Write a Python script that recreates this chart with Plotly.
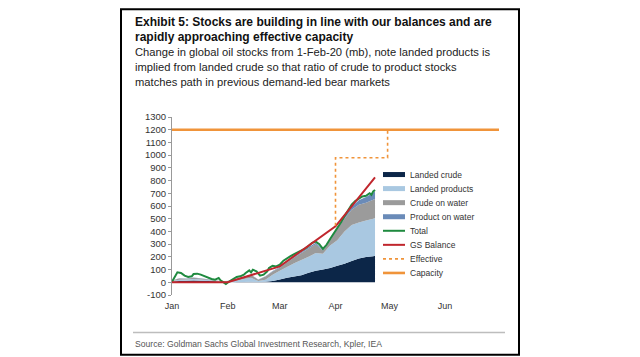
import plotly.graph_objects as go

# ---------------- data ----------------
area_dates = ["2020-01-01", "2020-01-05", "2020-01-09", "2020-01-13", "2020-01-17", "2020-01-21",
              "2020-01-25", "2020-01-29", "2020-02-02", "2020-02-06", "2020-02-10", "2020-02-14",
              "2020-02-18", "2020-02-22", "2020-02-26", "2020-03-01", "2020-03-05", "2020-03-09",
              "2020-03-13", "2020-03-17", "2020-03-21", "2020-03-25", "2020-03-29", "2020-04-02",
              "2020-04-06", "2020-04-10", "2020-04-14", "2020-04-18", "2020-04-22", "2020-04-23"]
landed_crude = [5, 10, 12, 15, 12, 10, 8, 3, 0, 2, 3, 5, 2, 5, 10, 22, 35, 45, 55, 75, 90, 100,
                112, 130, 145, 168, 188, 198, 205, 208]
landed_products = [5, 10, 10, 10, 10, 8, 4, 2, 5, 13, 22, 30, 8, 15, 50, 68, 85, 105, 120, 125, 140,
                   125, 178, 200, 255, 282, 282, 287, 295, 297]
crude_on_water = [5, 10, 6, 10, 8, 4, 3, 3, 5, 10, 15, 25, 10, 25, 25, 25, 35, 45, 55, 65, 70, 25,
                  40, 90, 100, 120, 140, 140, 150, 150]
product_on_water = [0, 2, 2, 2, 2, 2, 1, 0, 2, 3, 2, 2, 2, 3, 3, 5, 5, 5, 8, 10, 10, 8, 10, 15, 20,
                    25, 35, 45, 55, 60]

total_dates = ["2020-01-01", "2020-01-03", "2020-01-04", "2020-01-06", "2020-01-08", "2020-01-10",
               "2020-01-12", "2020-01-13", "2020-01-15", "2020-01-17", "2020-01-19", "2020-01-21",
               "2020-01-23", "2020-01-25", "2020-01-27", "2020-01-28", "2020-01-30", "2020-01-31",
               "2020-02-02", "2020-02-04", "2020-02-06", "2020-02-08", "2020-02-10", "2020-02-11",
               "2020-02-13", "2020-02-14", "2020-02-15", "2020-02-17", "2020-02-19", "2020-02-21",
               "2020-02-23", "2020-02-24", "2020-02-26", "2020-02-28", "2020-03-01", "2020-03-03",
               "2020-03-05", "2020-03-07", "2020-03-09", "2020-03-11", "2020-03-13", "2020-03-15",
               "2020-03-17", "2020-03-19", "2020-03-21", "2020-03-23", "2020-03-25", "2020-03-27",
               "2020-03-29", "2020-03-31", "2020-04-01", "2020-04-02", "2020-04-04", "2020-04-06",
               "2020-04-08", "2020-04-10", "2020-04-12", "2020-04-14", "2020-04-16", "2020-04-18",
               "2020-04-20", "2020-04-21", "2020-04-22", "2020-04-23"]
total = [5, 50, 78, 73, 52, 42, 47, 65, 68, 60, 47, 34, 26, 21, 34, 16, -5, -13, 8, 26, 42, 47, 60,
         73, 94, 78, 99, 86, 52, 60, 86, 112, 130, 125, 138, 170, 190, 205, 222, 235, 250, 265, 285,
         310, 320, 300, 262, 295, 340, 380, 400, 430, 470, 520, 565, 610, 640, 655, 675, 680, 700,
         688, 715, 726]

gs_dates = ["2020-01-01", "2020-02-01", "2020-03-01", "2020-04-01", "2020-04-23"]
gs_balance = [0, 0, 125, 440, 825]

eff_dates = ["2020-04-01", "2020-04-01", "2020-04-30", "2020-04-30", "2020-07-01"]
effective = [445, 980, 980, 1200, 1200]

cap_dates = ["2020-01-01", "2020-07-01"]
capacity = [1200, 1200]

month_ticks = ["2020-01-01", "2020-02-01", "2020-03-01", "2020-04-01", "2020-05-01", "2020-06-01"]
month_labels = ["Jan", "Feb", "Mar", "Apr", "May", "Jun"]
y_ticks = [-100, 0, 100, 200, 300, 400, 500, 600, 700, 800, 900, 1000, 1100, 1200, 1300]
y_range = [-100, 1300]

# ---------------- styling ----------------
C_LC = "#0c2648"
C_LP = "#a9c8e1"
C_CW = "#9b9b9b"
C_PW = "#6a8bb8"
C_TOT = "#1f8a3f"
C_GS = "#c0262d"
C_EFF = "#f0943a"
C_CAP = "#f0943a"

TFONT = "Liberation Sans, Arial, sans-serif"
ARIAL = "Liberation Sans, Arial, sans-serif"

OFF = 8                      # page body margin in the browser
W, H = 640 - OFF, 357 - OFF  # figure size
# plot-area edges in screen pixels
SL, SR, ST, SB = 172, 499, 117, 295.5
L, R, T, B = SL - OFF, SR - OFF, ST - OFF, SB - OFF


def fx(sx):
    return (sx - OFF - L) / (R - L)


def fy(sy):
    return (B - (sy - OFF)) / (B - T)


fig = go.Figure()

for name, vals, col in [("Landed crude", landed_crude, C_LC),
                        ("Landed products", landed_products, C_LP),
                        ("Crude on water", crude_on_water, C_CW),
                        ("Product on water", product_on_water, C_PW)]:
    fig.add_trace(go.Scatter(x=area_dates, y=vals, name=name, stackgroup="s", mode="none",
                             fillcolor=col, line=dict(width=0), showlegend=False))

fig.add_trace(go.Scatter(x=total_dates, y=total, name="Total", mode="lines",
                         line=dict(color=C_TOT, width=2), showlegend=False))
fig.add_trace(go.Scatter(x=gs_dates, y=gs_balance, name="GS Balance", mode="lines",
                         line=dict(color=C_GS, width=2), showlegend=False))
fig.add_trace(go.Scatter(x=eff_dates, y=effective, name="Effective", mode="lines",
                         line=dict(color=C_EFF, width=1.6, dash="dot"), showlegend=False))
fig.add_trace(go.Scatter(x=cap_dates, y=capacity, name="Capacity", mode="lines",
                         line=dict(color=C_CAP, width=2.6), showlegend=False))

zero_pos = (0 - y_range[0]) / (y_range[1] - y_range[0])

fig.update_layout(
    width=W, height=H,
    margin=dict(l=L, r=W - R, t=T, b=H - B, pad=0),
    paper_bgcolor="white", plot_bgcolor="white",
    showlegend=False,
    xaxis=dict(type="date", range=["2020-01-01", "2020-07-01"], tickvals=month_ticks,
               ticktext=month_labels, showgrid=False, zeroline=False, showline=False,
               ticks="", ticklabelstandoff=4,
               tickfont=dict(family=ARIAL, size=9, color="#333")),
    xaxis2=dict(type="date", range=["2020-01-01", "2020-07-01"], overlaying="x",
                anchor="free", position=zero_pos, tickvals=month_ticks + ["2020-07-01"],
                showticklabels=False, showgrid=False, zeroline=False, showline=True,
                linecolor="#999", linewidth=1, ticks="outside", ticklen=3, tickcolor="#999"),
    yaxis=dict(range=y_range, tickvals=y_ticks, ticktext=[str(v) for v in y_ticks],
               showgrid=False, zeroline=False, showline=True,
               linecolor="#999", linewidth=1, ticks="outside", ticklen=3, tickcolor="#999",
               tickfont=dict(family=ARIAL, size=9.5, color="#333")),
)

# legend (custom, compact)
legend_items = [("Landed crude", C_LC, "bar"), ("Landed products", C_LP, "bar"),
                ("Crude on water", C_CW, "bar"), ("Product on water", C_PW, "bar"),
                ("Total", C_TOT, "line"), ("GS Balance", C_GS, "line"),
                ("Effective", C_EFF, "dot"), ("Capacity", C_CAP, "cap")]
shapes = []
annotations = []
for i, (nm, col, kind) in enumerate(legend_items):
    sy = 174.7 + 14.1 * i
    width = {"bar": 5, "line": 2, "dot": 1.6, "cap": 2.6}[kind]
    dash = "dot" if kind == "dot" else "solid"
    shapes.append(dict(type="line", xref="paper", yref="paper", x0=fx(383), x1=fx(405),
                       y0=fy(sy), y1=fy(sy), line=dict(color=col, width=width, dash=dash)))
    annotations.append(dict(text=nm, xref="paper", yref="paper", x=fx(408), y=fy(sy),
                            xanchor="left", yanchor="middle", showarrow=False,
                            font=dict(family=ARIAL, size=8.5, color="#333")))

# panel border and rules
shapes.append(dict(type="rect", xref="paper", yref="paper", x0=fx(121), x1=fx(519),
                   y0=fy(OFF + 1), y1=fy(355.5), line=dict(color="black", width=2)))
for ry in (5, 333):
    shapes.append(dict(type="line", xref="paper", yref="paper", x0=fx(133), x1=fx(505),
                       y0=fy(ry), y1=fy(ry), line=dict(color="#bdbdbd", width=1.5)))

title_lines = [("Exhibit 5: Stocks are building in line with our balances and are", True, 21.5),
               ("rapidly approaching effective capacity", True, 36.5),
               ("Change in global oil stocks from 1-Feb-20 (mb), note landed products is", False, 52),
               ("implied from landed crude so that ratio of crude to product stocks", False, 67),
               ("matches path in previous demand-led bear markets", False, 82)]
for txt, bold, sy in title_lines:
    annotations.append(dict(text=f"<b>{txt}</b>" if bold else txt, xref="paper", yref="paper",
                            x=fx(133), y=fy(sy), xanchor="left", yanchor="middle",
                            showarrow=False,
                            font=dict(family=TFONT, size=12 if bold else 11.2,
                                      color="#111" if bold else "#222")))
annotations.append(dict(text="Source: Goldman Sachs Global Investment Research, Kpler, IEA",
                        xref="paper", yref="paper", x=fx(133), y=fy(345), xanchor="left",
                        yanchor="middle", showarrow=False,
                        font=dict(family=TFONT, size=8.6, color="#555")))

fig.update_layout(shapes=shapes, annotations=annotations)
fig.write_html("out.html")
